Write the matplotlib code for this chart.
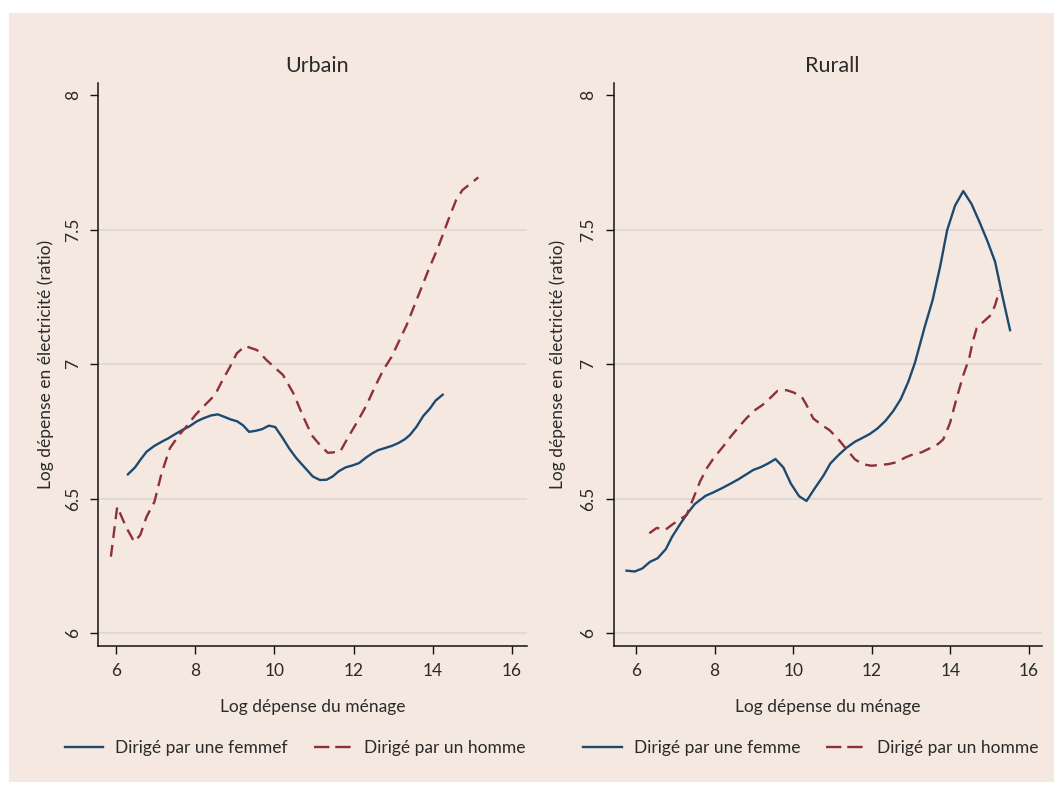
import matplotlib
matplotlib.use("Agg")
import matplotlib.pyplot as plt
from matplotlib.patches import Rectangle
from matplotlib.lines import Line2D

plt.rcParams['font.family'] = ['Lato', 'DejaVu Sans']

# --- data ---
# Urbain, femme
urb_f_x = [6.30, 6.48, 6.63, 6.77, 6.96, 7.15, 7.32, 7.51, 7.70, 7.85, 8.04, 8.20, 8.40, 8.57,
           8.73, 8.90, 9.06, 9.21, 9.36, 9.53, 9.69, 9.86, 10.02, 10.20, 10.37, 10.56, 10.75,
           10.97, 11.15, 11.32, 11.47, 11.63, 11.80, 11.97, 12.14, 12.31, 12.47, 12.62, 12.80,
           12.97, 13.14, 13.30, 13.42, 13.59, 13.76, 13.93, 14.07, 14.25]
urb_f_y = [6.590, 6.616, 6.647, 6.674, 6.695, 6.711, 6.724, 6.741, 6.757, 6.768, 6.787, 6.798,
           6.809, 6.813, 6.804, 6.794, 6.787, 6.772, 6.748, 6.752, 6.758, 6.771, 6.766, 6.727,
           6.687, 6.649, 6.618, 6.582, 6.569, 6.570, 6.582, 6.602, 6.616, 6.623, 6.632, 6.652,
           6.668, 6.680, 6.688, 6.696, 6.707, 6.721, 6.736, 6.767, 6.807, 6.835, 6.864, 6.886]
# Urbain, homme
urb_h_x = [5.87, 6.03, 6.25, 6.46, 6.61, 6.77, 6.97, 7.15, 7.36, 7.57, 7.79, 8.00, 8.20, 8.41,
           8.54, 8.71, 8.88, 9.05, 9.26, 9.56, 9.80, 10.22, 10.48, 10.73, 10.94, 11.15, 11.35,
           11.66, 11.87, 12.12, 12.33, 12.54, 12.75, 12.96, 13.34, 13.59, 13.89, 14.14, 14.39,
           14.59, 14.75, 14.94, 15.15]
urb_h_y = [6.284, 6.470, 6.395, 6.339, 6.364, 6.432, 6.488, 6.594, 6.687, 6.732, 6.770, 6.810,
           6.841, 6.872, 6.897, 6.946, 6.990, 7.040, 7.067, 7.052, 7.015, 6.959, 6.891, 6.804,
           6.736, 6.699, 6.670, 6.674, 6.730, 6.792, 6.848, 6.916, 6.978, 7.027, 7.145, 7.238,
           7.349, 7.436, 7.535, 7.610, 7.647, 7.669, 7.694]
# Rural, femme
rur_f_x = [5.76, 5.97, 6.16, 6.36, 6.55, 6.76, 6.92, 7.12, 7.32, 7.50, 7.77, 7.97, 8.18, 8.39,
           8.60, 8.82, 8.98, 9.18, 9.37, 9.55, 9.75, 9.94, 10.15, 10.34, 10.55, 10.77, 10.95,
           11.17, 11.36, 11.57, 11.77, 11.95, 12.15, 12.35, 12.55, 12.74, 12.93, 13.10, 13.35,
           13.55, 13.74, 13.92, 14.12, 14.33, 14.54, 14.74, 14.95, 15.14, 15.31, 15.52]
rur_f_y = [6.232, 6.229, 6.240, 6.265, 6.278, 6.312, 6.358, 6.404, 6.447, 6.480, 6.510, 6.523,
           6.538, 6.554, 6.571, 6.591, 6.606, 6.617, 6.631, 6.647, 6.616, 6.556, 6.509, 6.491,
           6.538, 6.585, 6.631, 6.664, 6.689, 6.711, 6.726, 6.740, 6.761, 6.789, 6.826, 6.870,
           6.934, 7.005, 7.139, 7.238, 7.362, 7.498, 7.589, 7.643, 7.595, 7.529, 7.455, 7.380,
           7.263, 7.126]
# Rural, homme
rur_h_x = [6.34, 6.53, 6.74, 6.93, 7.12, 7.29, 7.46, 7.63, 7.80, 7.99, 8.20, 8.41, 8.62, 8.82,
           9.03, 9.22, 9.41, 9.60, 9.83, 10.00, 10.22, 10.34, 10.51, 10.73, 10.92, 11.13, 11.36,
           11.57, 11.78, 12.00, 12.21, 12.42, 12.63, 12.86, 13.06, 13.27, 13.48, 13.69, 13.82,
           13.99, 14.16, 14.33, 14.48, 14.57, 14.67, 14.84, 15.03, 15.14, 15.25]
rur_h_y = [6.371, 6.391, 6.383, 6.404, 6.423, 6.439, 6.501, 6.563, 6.612, 6.653, 6.690, 6.730,
           6.767, 6.800, 6.829, 6.848, 6.873, 6.900, 6.903, 6.895, 6.878, 6.848, 6.798, 6.773,
           6.755, 6.724, 6.683, 6.646, 6.627, 6.622, 6.625, 6.628, 6.635, 6.653, 6.665, 6.672,
           6.687, 6.703, 6.720, 6.780, 6.873, 6.959, 7.021, 7.083, 7.133, 7.157, 7.182, 7.219,
           7.275]

panels = [
    ("Urbain", urb_f_x, urb_f_y, urb_h_x, urb_h_y, "Dirigé par une femmef"),
    ("Rurall", rur_f_x, rur_f_y, rur_h_x, rur_h_y, "Dirigé par une femme"),
]
male_label = "Dirigé par un homme"
yticks = [6, 6.5, 7, 7.5, 8]
xticks = [6, 8, 10, 12, 14, 16]

bg = '#f5e8e0'
blue = '#1c4a70'
red = '#8e3039'
txt = '#2a2a2a'

fig = plt.figure(figsize=(10.54, 7.87), dpi=100)
fig.patch.set_facecolor('white')
fig.patches.append(Rectangle((9 / 1054, 5 / 787), 1 - 9 / 1054, 1 - 18 / 787,
                             transform=fig.transFigure, facecolor=bg, edgecolor='none', zorder=-10))

positions = [[0.093, 0.1792, 0.407, 0.7154], [0.5825, 0.1792, 0.406, 0.7154]]
xlims = [(5.545, 16.38), (5.44, 16.33)]
ylab_x = [-0.102, -0.112]

for i, (title, fx, fy, hx, hy, flab) in enumerate(panels):
    ax = fig.add_axes(positions[i])
    ax.set_facecolor('none')
    for g in yticks[:-1]:
        ax.axhline(g, color='#dedad4', lw=1.4, zorder=1)
    ax.plot(fx, fy, color=blue, lw=1.7, zorder=3)
    ax.plot(hx, hy, color=red, lw=1.7, dashes=(5, 3), zorder=3)
    ax.set_xlim(*xlims[i])
    ax.set_ylim(5.952, 8.045)
    ax.set_xticks(xticks)
    ax.set_yticks(yticks)
    ax.set_yticklabels(['6', '6.5', '7', '7.5', '8'], rotation=90, va='center')
    for s in ['top', 'right']:
        ax.spines[s].set_visible(False)
    for s in ['left', 'bottom']:
        ax.spines[s].set_color('#111111')
        ax.spines[s].set_linewidth(1.1)
    ax.tick_params(direction='out', length=6, width=1.0, color='#111111',
                   labelsize=12.5, labelcolor=txt, pad=6.5)
    ax.set_title(title, fontsize=15.5, color=txt, x=0.51, y=1.0, pad=8)
    ax.set_xlabel("Log dépense du ménage", fontsize=12.5, color=txt)
    ax.xaxis.set_label_coords(0.5, -0.095)
    ax.set_ylabel("Log dépense en électricité (ratio)", fontsize=12.5, color=txt)
    ax.yaxis.set_label_coords(ylab_x[i], 0.5)
    handles = [Line2D([], [], color=blue, lw=1.7),
               Line2D([], [], color=red, lw=1.7, dashes=(6.5, 2.5))]
    ax.legend(handles, [flab, male_label], loc='center', bbox_to_anchor=(0.46, -0.181),
              ncol=2, frameon=False, fontsize=12.5, handlelength=2.2, columnspacing=1.5,
              handletextpad=0.7, labelcolor=txt)

fig.savefig('out.png', dpi=100, facecolor=fig.get_facecolor())
